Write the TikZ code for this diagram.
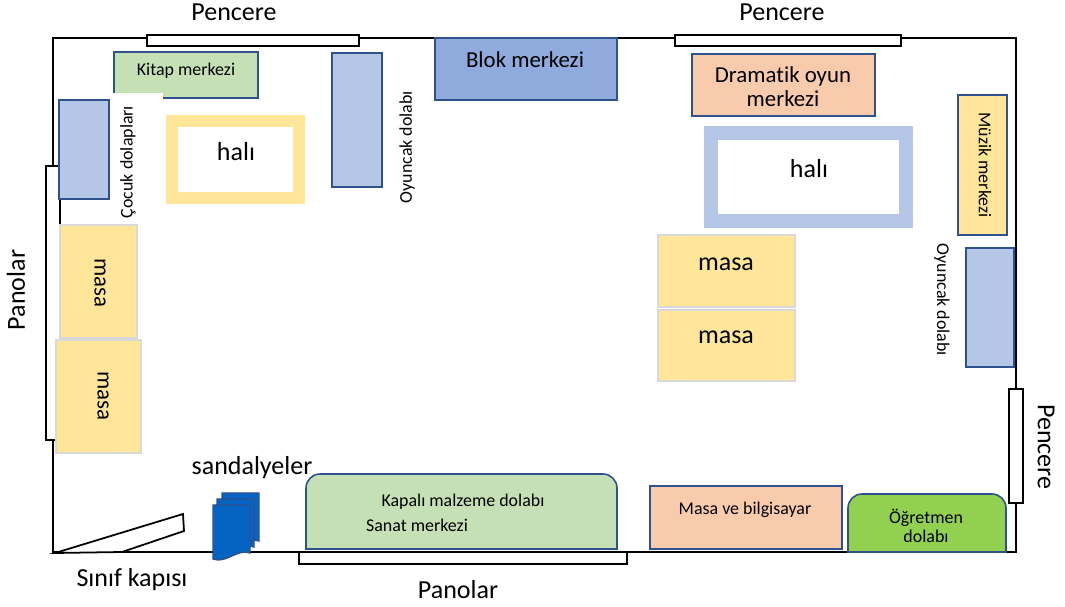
\documentclass[tikz,border=0pt]{standalone}
\usepackage{fontspec}
\setmainfont{Carlito}[Ligatures=NoCommon]
\definecolor{edge}{HTML}{2F528F}
\definecolor{lblue}{HTML}{B4C7E7}
\definecolor{mblue}{HTML}{8FAADC}
\definecolor{lgreen}{HTML}{C5E0B4}
\definecolor{peach}{HTML}{F8CBAD}
\definecolor{lyellow}{HTML}{FFE699}
\definecolor{bgreen}{HTML}{92D050}
\definecolor{chair}{HTML}{0563C1}
\begin{document}
\begin{tikzpicture}[x=0.02cm,y=-0.02cm,
    wall/.style={line width=1.2pt},
    strip/.style={draw,line width=1.1pt,fill=white},
    unit/.style={draw=edge,line width=0.9pt},
    tablebox/.style={draw=black!15,line width=0.9pt,fill=lyellow},
    big/.style={inner sep=0pt,font=\fontsize{14.8}{17}\selectfont},
    mid/.style={inner sep=0pt,font=\fontsize{13}{13.6}\selectfont},
    small/.style={inner sep=0pt,font=\fontsize{10.2}{10.8}\selectfont}]
  \useasboundingbox (0,0) rectangle (1065,607);

  % walls
  \draw[wall] (53,552) -- (53,38) -- (1016,38) -- (1016,552) -- cycle;

  % windows and boards
  \draw[strip] (147,35) rectangle (359,46);
  \draw[strip] (675,35) rectangle (901,46);
  \draw[strip] (46,166) rectangle (60,440);
  \draw[strip] (1009,389) rectangle (1023,503);
  \draw[strip] (299,552) rectangle (627,564);
  \draw
    (234,12) node[big] (pencere1) {Pencere}
    (782,12) node[big] (pencere2) {Pencere}
    (1046,447) node[big,rotate=-90] (pencere3) {Pencere}
    (16,290) node[big,rotate=90] (panolar1) {Panolar}
    (458,590) node[big] (panolar2) {Panolar};

  % door
  \draw[line width=1pt,fill=white] (55,553) -- (183,514) -- (184,531) -- (122,552) -- cycle;
  \node[big] (kapi) at (132,580) {Sınıf kapısı};

  % chairs
  \foreach \dx/\dy in {9/-12,4/-6,0/0}
    \filldraw[draw=edge,fill=chair,line width=0.8pt]
      ({213+\dx},{505+\dy}) -- ({250+\dx},{505+\dy}) -- ({250+\dx},{553+\dy})
      .. controls ({238+\dx},{548+\dy}) and ({226+\dx},{564+\dy}) .. ({213+\dx},{559+\dy}) -- cycle;
  \node[big] (sandalye) at (252,468) {sandalyeler};

  % left side
  \draw[unit,fill=lgreen] (114,52) rectangle (258,98);
  \node[small] (kitap) at (186,71) {Kitap merkezi};
  \draw[unit,fill=lblue] (59,100) rectangle (109,199);
  \fill[white] (113,93) rectangle (163,225);
  \node[small,rotate=90] (cocuk) at (128,162) {Çocuk dolapları};
  \draw[lyellow,line width=7pt] (172,121) rectangle (299,198);
  \node[big] (hali1) at (236,152) {halı};
  \draw[unit,fill=lblue] (332,53) rectangle (382,187);
  \node[small,rotate=90] (oyuncak1) at (407,147) {Oyuncak dolabı};
  \draw[tablebox] (60,225) rectangle (137,338);
  \node[mid,rotate=-90] (masa1) at (100,283) {masa};
  \draw[tablebox] (56,340) rectangle (141,453);
  \node[mid,rotate=-90] (masa2) at (103,396) {masa};

  % middle and right side
  \draw[unit,fill=mblue] (435,38) rectangle (617,100);
  \node[mid] (blok) at (525,60) {Blok merkezi};
  \draw[unit,fill=peach] (692,54) rectangle (875,116);
  \node[mid,align=center] (drama) at (783,87) {Dramatik oyun\\merkezi};
  \draw[lblue,line width=8.5pt] (711,133) rectangle (906,221);
  \node[big] (hali2) at (809,169) {halı};
  \draw[unit,fill=lyellow] (958,95) rectangle (1007,235);
  \node[small,rotate=-90] (muzik) at (985,165) {Müzik merkezi};
  \draw[unit,fill=lblue] (966,248) rectangle (1014,367);
  \node[small,rotate=-90] (oyuncak2) at (942,300) {Oyuncak dolabı};
  \draw[tablebox] (658,235) rectangle (795,307);
  \node[big] (masa3) at (726,264) {masa};
  \draw[tablebox] (658,310) rectangle (795,381);
  \node[big] (masa4) at (726,337) {masa};

  % bottom wall
  \draw[unit,fill=lgreen] (306,549) [rounded corners=8pt] -- (306,474) -- (617,474) [sharp corners] -- (617,549) -- cycle;
  \node[small] (kapali) at (463,502) {Kapalı malzeme dolabı};
  \node[small] (sanat) at (417,525) {Sanat merkezi};
  \draw[unit,fill=peach] (650,486) rectangle (842,549);
  \node[small] (bilgisayar) at (745,510) {Masa ve bilgisayar};
  \draw[unit,fill=bgreen] (848,552) [rounded corners=8pt] -- (848,494) -- (1006,494) [sharp corners] -- (1006,552) -- cycle;
  \node[small,align=center] (ogretmen) at (926,526) {Öğretmen\\dolabı};
\end{tikzpicture}
\end{document}
